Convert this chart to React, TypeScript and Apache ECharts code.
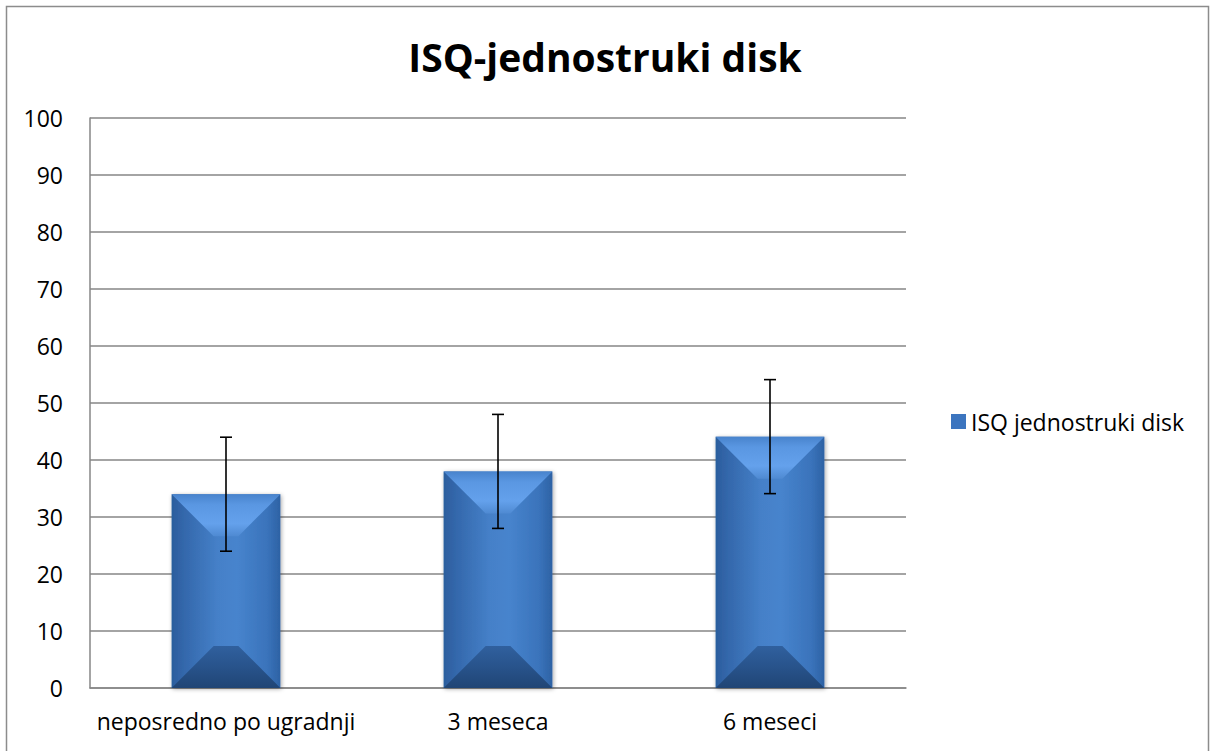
import React, { useEffect, useRef } from "react";
import * as echarts from "echarts";

const categories = ["neposredno po ugradnji", "3 meseca", "6 meseci"];
const values = [34, 38, 44.1];
const errors = [10, 10, 10];
const seriesName = "ISQ jednostruki disk";
const titleText = "ISQ-jednostruki disk";

export default function App() {
  const ref = useRef<HTMLDivElement>(null);
  useEffect(() => {
    if (!ref.current) return;
    const chart = echarts.init(ref.current, undefined, { renderer: "svg" });
    const font = "'Open Sans', sans-serif";
    const renderItem = (params: any, api: any) => {
      const idx = api.value(0);
      const v = api.value(1);
      const e = api.value(2);
      const top = api.coord([idx, v]);
      const base = api.coord([idx, 0]);
      const hi = api.coord([idx, v + e]);
      const lo = api.coord([idx, v - e]);
      const w = api.size([1, 0])[0] * 0.4;
      const cx = top[0];
      const l = cx - w / 2;
      const r = cx + w / 2;
      const t = top[1];
      const b = base[1];
      const d = Math.min(42, (b - t) / 2, w / 2);
      return {
        type: "group",
        children: [
          {
            type: "rect",
            shape: { x: l, y: t, width: w, height: b - t },
            style: {
              fill: new echarts.graphic.LinearGradient(0, 0, 1, 0, [
                { offset: 0, color: "#2b5d9d" },
                { offset: 0.12, color: "#3468ac" },
                { offset: 0.42, color: "#4580c8" },
                { offset: 0.6, color: "#4784cd" },
                { offset: 0.88, color: "#3a73bb" },
                { offset: 1, color: "#2d62a4" },
              ]),
              shadowBlur: 4,
              shadowColor: "rgba(0,0,0,0.35)",
              shadowOffsetX: 1,
              shadowOffsetY: 1,
            },
          },
          {
            type: "polygon",
            shape: { points: [[l, t], [r, t], [r - d, t + d], [l + d, t + d]] },
            style: {
              fill: new echarts.graphic.LinearGradient(0, 0, 0, 1, [
                { offset: 0, color: "#4883cc" },
                { offset: 0.25, color: "#5a97e2" },
                { offset: 0.7, color: "#64a1ec" },
                { offset: 1, color: "#4f8ad2" },
              ]),
            },
          },
          {
            type: "polygon",
            shape: { points: [[l, b], [r, b], [r - d, b - d], [l + d, b - d]] },
            style: {
              fill: new echarts.graphic.LinearGradient(0, 0, 0, 1, [
                { offset: 0, color: "#30609e" },
                { offset: 0.5, color: "#28538b" },
                { offset: 1, color: "#204575" },
              ]),
            },
          },
          {
            type: "line",
            shape: { x1: cx, y1: hi[1], x2: cx, y2: lo[1] },
            style: { stroke: "#000", lineWidth: 1.6 },
          },
          {
            type: "line",
            shape: { x1: cx - 6, y1: hi[1], x2: cx + 6, y2: hi[1] },
            style: { stroke: "#000", lineWidth: 1.6 },
          },
          {
            type: "line",
            shape: { x1: cx - 6, y1: lo[1], x2: cx + 6, y2: lo[1] },
            style: { stroke: "#000", lineWidth: 1.6 },
          },
        ],
      };
    };
    chart.setOption({
      animation: false,
      backgroundColor: "#ffffff",
      title: {
        text: titleText,
        left: "center",
        top: 32,
        textStyle: { fontFamily: font, fontWeight: "bold", fontSize: 39, color: "#000" },
      },
      legend: {
        data: [{ name: seriesName, icon: "rect" }],
        left: 946,
        top: 405,
        itemWidth: 15,
        itemHeight: 15,
        textStyle: { fontFamily: font, fontSize: 23, color: "#000" },
      },
      grid: { left: 90, right: 304, top: 118, bottom: 63 },
      xAxis: {
        type: "category",
        data: categories,
        axisTick: { show: false },
        axisLine: { lineStyle: { color: "#868686", width: 1.5 } },
        axisLabel: { fontFamily: font, fontSize: 23, color: "#000", margin: 21, interval: 0 },
      },
      yAxis: {
        type: "value",
        min: 0,
        max: 100,
        interval: 10,
        axisLine: { show: true, lineStyle: { color: "#868686", width: 1.5 } },
        axisTick: { show: false },
        splitLine: { lineStyle: { color: "#868686", width: 1.5 } },
        axisLabel: { fontFamily: font, fontSize: 23, color: "#000", margin: 27 },
      },
      graphic: [
        {
          type: "rect",
          shape: { x: 6.5, y: 6.5, width: 1202, height: 760 },
          style: { fill: "none", stroke: "#8c8c8c", lineWidth: 1.5 },
          silent: true,
        },
      ],
      series: [
        {
          type: "custom",
          name: seriesName,
          itemStyle: { color: "#3c75bf" },
          encode: { x: 0, y: 1 },
          data: categories.map((c, i) => [i, values[i], errors[i]]),
          renderItem,
        },
      ],
    });
    return () => chart.dispose();
  }, []);
  return (
    <div
      ref={ref}
      style={{ position: "absolute", left: 0, top: 0, width: 1210, height: 751 }}
    />
  );
}
